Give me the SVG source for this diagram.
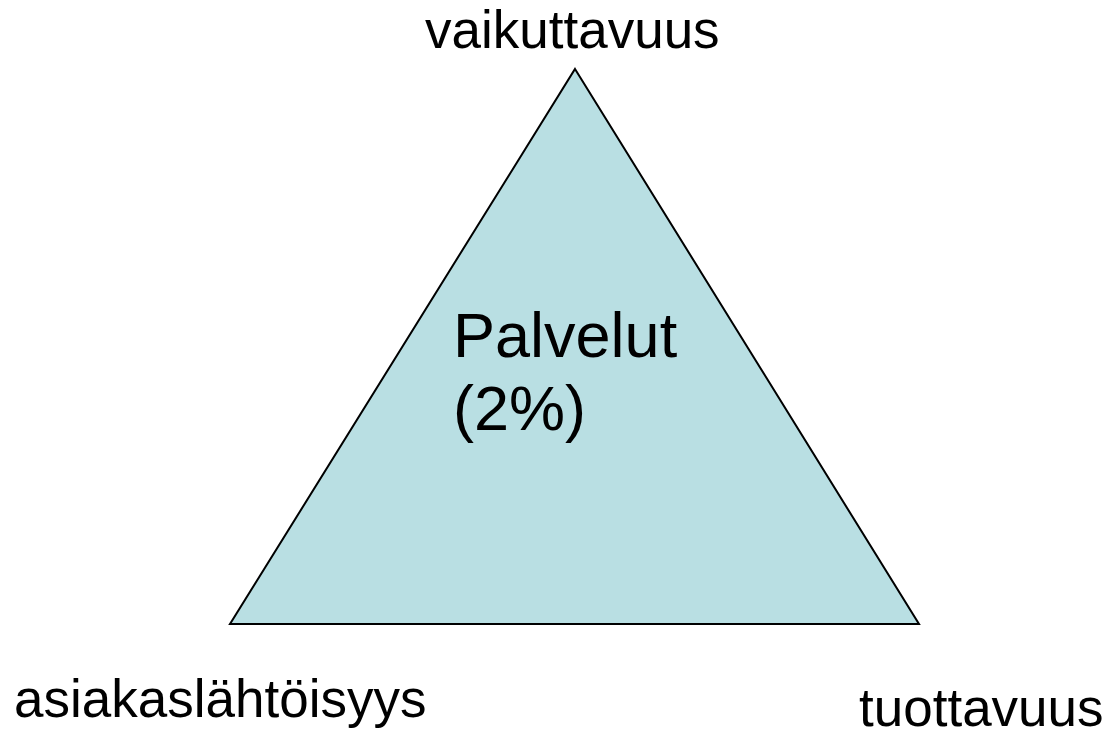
<svg xmlns="http://www.w3.org/2000/svg" width="1107" height="731" viewBox="0 0 1107 731">
<style>
.t{font-family:"Liberation Sans",Arial,sans-serif;fill:#000}
.l{font-size:53px}
.c{font-size:63px}
</style>
<rect width="1107" height="731" fill="#fff"/>
<g id="triangle">
<polygon points="575,69 919,624 230,624" fill="#B9DFE3" stroke="#000" stroke-width="2" stroke-linejoin="miter"/>
<text class="t c" x="453" y="357">Palvelut</text>
<text class="t c" x="453" y="430">(2%)</text>
</g>
<g id="label-top"><text class="t l" x="425" y="48">vaikuttavuus</text></g>
<g id="label-left"><text class="t l" x="14" y="717">asiakaslähtöisyys</text></g>
<g id="label-right"><text class="t l" x="859" y="726">tuottavuus</text></g>
<g id="connectors"/>
</svg>
